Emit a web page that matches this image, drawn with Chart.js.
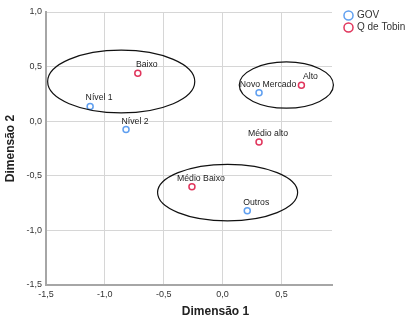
<!DOCTYPE html>
<html>
<head>
<meta charset="utf-8">
<script src="https://cdn.jsdelivr.net/npm/chart.js@4/dist/chart.umd.min.js"></script>
<style>
  html, body { margin: 0; padding: 0; background: #fff; }
  #wrap { width: 409px; height: 320px; }
</style>
</head>
<body>
<div id="wrap"><canvas id="myChart" width="409" height="320"></canvas></div>
<script>
// GOV categories
var govLabels = ['Nível 1', 'Nível 2', 'Novo Mercado', 'Outros'];
var govX = [-1.125, -0.82, 0.31, 0.21];
var govY = [0.134, -0.077, 0.26, -0.82];

// Q de Tobin categories
var qLabels = ['Baixo', 'Alto', 'Médio alto', 'Médio Baixo'];
var qX = [-0.72, 0.67, 0.31, -0.26];
var qY = [0.44, 0.33, -0.19, -0.60];

// groups circled on the plot (data units)
var ellX = [-0.861, 0.542, 0.043];
var ellY = [0.363, 0.331, -0.654];
var ellRX = [0.625, 0.40, 0.595];
var ellRY = [0.287, 0.212, 0.259];

var xMin = -1.5, xMax = 0.93;
var yMin = -1.5, yMax = 1.0;

function pts(xs, ys) {
  var out = [];
  for (var i = 0; i < xs.length; i++) out.push({ x: xs[i], y: ys[i] });
  return out;
}

function fmt(v) {
  return v.toFixed(1).replace('.', ',');
}

var extras = {
  id: 'extras',
  afterInit: function (chart) {
    var lg = chart.legend;
    var origFit = lg.fit;
    lg.fit = function () {
      origFit.call(this);
      this.width = 77;
    };
  },
  afterLayout: function (chart) {
    var lg = chart.legend;
    var shift = chart.chartArea.right + 11 - lg.left;
    lg.left += shift; lg.right += shift;
    lg.top = 8.5;
    var tb = chart.titleBlock;
    tb.left += 11; tb.right += 11;
  },
  afterDatasetsDraw: function (chart) {
    var ctx = chart.ctx;
    var xs = chart.scales.x, ys = chart.scales.y;
    ctx.save();
    ctx.strokeStyle = '#111';
    ctx.lineWidth = 1.2;
    for (var i = 0; i < ellX.length; i++) {
      var cx = xs.getPixelForValue(ellX[i]);
      var cy = ys.getPixelForValue(ellY[i]);
      var rx = Math.abs(xs.getPixelForValue(ellX[i] + ellRX[i]) - cx);
      var ry = Math.abs(ys.getPixelForValue(ellY[i] + ellRY[i]) - cy);
      ctx.beginPath();
      ctx.ellipse(cx, cy, rx, ry, 0, 0, Math.PI * 2);
      ctx.stroke();
    }
    ctx.font = '8.7px "Liberation Sans", Arial, sans-serif';
    ctx.fillStyle = '#222';
    ctx.textAlign = 'center';
    ctx.textBaseline = 'middle';
    var names = [govLabels, qLabels];
    for (var d = 0; d < 2; d++) {
      var meta = chart.getDatasetMeta(d);
      meta.data.forEach(function (el, j) {
        ctx.fillText(names[d][j], el.x + 9, el.y - 8.5);
      });
    }
    ctx.restore();
  }
};

var ctx = document.getElementById('myChart').getContext('2d');
var myChart = new Chart(ctx, {
  type: 'scatter',
  data: {
    datasets: [{
      label: 'GOV',
      data: pts(govX, govY),
      borderColor: '#5f9ff0',
      backgroundColor: 'rgba(0,0,0,0)',
      pointRadius: 3,
      pointBorderWidth: 1.5,
      borderWidth: 1.5
    }, {
      label: 'Q de Tobin',
      data: pts(qX, qY),
      borderColor: '#e0355c',
      backgroundColor: 'rgba(0,0,0,0)',
      pointRadius: 3,
      pointBorderWidth: 1.5,
      borderWidth: 1.5
    }]
  },
  options: {
    responsive: false,
    animation: false,
    layout: { padding: { top: 12, left: 0, right: 0, bottom: 0 } },
    plugins: {
      tooltip: { enabled: false },
      legend: {
        position: 'right',
        align: 'start',
        fullSize: false,
        labels: {
          usePointStyle: true,
          pointStyle: 'circle',
          boxWidth: 7,
          boxHeight: 6.4,
          padding: 2,
          color: '#333',
          font: { family: '"Liberation Sans", Arial, sans-serif', size: 10 }
        }
      },
      title: {
        display: true,
        position: 'bottom',
        text: 'Dimensão 1',
        color: '#222',
        padding: { top: 0, bottom: 1 },
        font: { family: '"Liberation Sans", Arial, sans-serif', size: 12, weight: 'bold' }
      }
    },
    scales: {
      x: {
        type: 'linear',
        min: xMin,
        max: xMax,
        afterFit: function (s) { s.height = 19.6; },
        ticks: {
          stepSize: 0.5,
          includeBounds: false,
          padding: 4,
          maxRotation: 0,
          color: '#333',
          font: { family: '"Liberation Sans", Arial, sans-serif', size: 9 },
          callback: function (v) { return fmt(v); }
        },
        grid: { color: '#d6d6d6', lineWidth: 1, drawTicks: false },
        border: { color: '#a6a6a6', width: 2 }
      },
      y: {
        type: 'linear',
        min: yMin,
        max: yMax,
        afterFit: function (s) { s.width = 46; },
        ticks: {
          stepSize: 0.5,
          padding: 4,
          color: '#333',
          font: { family: '"Liberation Sans", Arial, sans-serif', size: 9 },
          callback: function (v) { return fmt(v); }
        },
        grid: { color: '#d6d6d6', lineWidth: 1, drawTicks: false },
        border: { color: '#a6a6a6', width: 2 },
        title: {
          display: true,
          text: 'Dimensão 2',
          color: '#222',
          padding: { top: 3, bottom: 0 },
          font: { family: '"Liberation Sans", Arial, sans-serif', size: 12, weight: 'bold' }
        }
      }
    }
  },
  plugins: [extras]
});
</script>
</body>
</html>
